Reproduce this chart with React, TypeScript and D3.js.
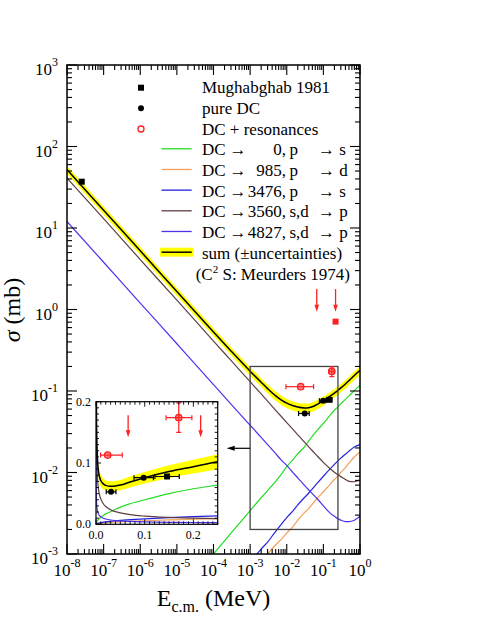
import React from "react";
import * as d3 from "d3";

// ---------- data ----------
const energyGrid = [1e-8, 1e-7, 1e-6, 1e-5, 1e-4, 3e-4, 1e-3, 2e-3, 3e-3, 5e-3, 7e-3, 0.01, 0.015, 0.02, 0.03, 0.04, 0.05, 0.07, 0.1, 0.15, 0.2, 0.25, 0.3, 0.4, 0.5, 0.7, 1.0];

const sumXS = [52, 16.5, 5.25, 1.66, 0.53, 0.31, 0.175, 0.128, 0.107, 0.087, 0.078, 0.071, 0.066, 0.0635, 0.062, 0.0625, 0.064, 0.069, 0.076, 0.086, 0.094, 0.102, 0.109, 0.122, 0.134, 0.155, 0.18];
const sumRelErr = [0.11, 0.11, 0.11, 0.11, 0.11, 0.11, 0.12, 0.12, 0.12, 0.13, 0.13, 0.13, 0.13, 0.13, 0.13, 0.13, 0.13, 0.13, 0.125, 0.12, 0.12, 0.12, 0.12, 0.12, 0.12, 0.12, 0.12];
const dc0 = [null, null, null, 0.0003, 0.001, 0.0018, 0.0034, 0.0049, 0.006, 0.0078, 0.0094, 0.0118, 0.0145, 0.017, 0.0205, 0.0245, 0.028, 0.0335, 0.040, 0.050, 0.058, 0.064, 0.070, 0.079, 0.087, 0.101, 0.118];
const dc985 = [null, null, null, null, null, 0.0003, 0.00055, 0.0008, 0.001, 0.0013, 0.0015, 0.0018, 0.0022, 0.0026, 0.0032, 0.0036, 0.0041, 0.0049, 0.0058, 0.0071, 0.0082, 0.0091, 0.0100, 0.0115, 0.0130, 0.0155, 0.018];
const dc3476 = [null, null, null, null, null, 0.00045, 0.0008, 0.00115, 0.0014, 0.0019, 0.0023, 0.0028, 0.0034, 0.0040, 0.0049, 0.0056, 0.0063, 0.0075, 0.009, 0.011, 0.0126, 0.0139, 0.015, 0.0168, 0.0183, 0.0205, 0.022];
const dc3560 = [41, 13, 4.1, 1.3, 0.41, 0.237, 0.13, 0.092, 0.075, 0.058, 0.049, 0.041, 0.0335, 0.029, 0.0237, 0.0206, 0.0185, 0.0157, 0.0133, 0.0112, 0.0101, 0.0094, 0.0089, 0.0082, 0.0078, 0.0077, 0.0081];
const dc4827 = [12, 3.8, 1.2, 0.38, 0.12, 0.069, 0.038, 0.027, 0.022, 0.017, 0.0143, 0.0122, 0.0099, 0.0086, 0.007, 0.0061, 0.0055, 0.0047, 0.0039, 0.0032, 0.0029, 0.0027, 0.0026, 0.0025, 0.0025, 0.0026, 0.0029];

// experimental points
const mughabghabE = [2.53e-8, 0.146];
const mughabghabS = [37, 0.078];
const mughabghabDx = [0, 0.025];
const pureDCE = [0.031, 0.098];
const pureDCS = [0.053, 0.076];
const pureDCDx = [0.010, 0.020];
const resE = [0.024, 0.170];
const resS = [0.113, 0.174];
const resXlo = [0.0095, 0.144];
const resXhi = [0.054, 0.197];
const resDy = [0, 0.024];
const resSquareE = [0.215];
const resSquareS = [0.71];
const limitE = [0.066, 0.215];
const limitMainTop = [1.78, 1.78];
const limitMainTip = [0.94, 0.94];
const limitInsetTop = [0.178, 0.178];
const limitInsetTip = [0.142, 0.142];

const xDecades = [-8, -7, -6, -5, -4, -3, -2, -1, 0];
const yDecades = [-3, -2, -1, 0, 1, 2, 3];
const insetXTicks = ["0.0", "0.1", "0.2"];
const insetYTicks = ["0.0", "0.1", "0.2"];
const zoomBox = [1e-3, 0.25, 0.002, 0.2];

const legendItems = [
  { n: "0,", t: "p", f: "\u2192 s", c: "#22dd22" },
  { n: "985,", t: "p", f: "\u2192 d", c: "#f5a05a" },
  { n: "3476,", t: "p", f: "\u2192 s", c: "#2222dd" },
  { n: "3560,", t: "s,d", f: "\u2192 p", c: "#5e3f3f" },
  { n: "4827,", t: "s,d", f: "\u2192 p", c: "#4b33ee" },
];

const curves = [
  { v: dc0, c: "#22dd22" },
  { v: dc985, c: "#f5a05a" },
  { v: dc3476, c: "#2222dd" },
  { v: dc3560, c: "#5e3f3f" },
  { v: dc4827, c: "#4b33ee" },
];

// ---------- layout ----------
const FONT = "Liberation Serif, Times New Roman, Times, serif";
const x = d3.scaleLog().domain([1e-8, 1]).range([67, 360]);
const y = d3.scaleLog().domain([1e-3, 1e3]).range([554, 65]);
const ix = d3.scaleLinear().domain([0, 0.25]).range([96, 217.7]);
const iy = d3.scaleLinear().domain([0, 0.2]).range([524.3, 401.7]);
const RED = "#ff2020";

type Pt = { e: number; v: number; r: number };
function series(vals: (number | null)[], maxE = 10): Pt[] {
  const out: Pt[] = [];
  energyGrid.forEach((e, i) => {
    const v = vals[i];
    if (v != null && e <= maxE) out.push({ e, v, r: sumRelErr[i] });
  });
  return out;
}

const mainLine = d3.line<Pt>().x((d) => x(d.e)).y((d) => y(d.v)).curve(d3.curveMonotoneX);
const mainArea = d3.area<Pt>().x((d) => x(d.e)).y0((d) => y(d.v * (1 - d.r))).y1((d) => y(d.v * (1 + d.r))).curve(d3.curveMonotoneX);
const insLine = d3.line<Pt>().x((d) => ix(d.e)).y((d) => iy(d.v)).curve(d3.curveMonotoneX);
const insArea = d3.area<Pt>().x((d) => ix(d.e)).y0((d) => iy(d.v * (1 - d.r))).y1((d) => iy(d.v * (1 + d.r))).curve(d3.curveMonotoneX);

function Arrow({ x0, y0, y1, color }: { x0: number; y0: number; y1: number; color: string }) {
  return (
    <g>
      <line x1={x0} x2={x0} y1={y0} y2={y1 - 6} stroke={color} strokeWidth={1.3} />
      <path d={`M${x0 - 2.3},${y1 - 7} L${x0 + 2.3},${y1 - 7} L${x0},${y1} Z`} fill={color} />
    </g>
  );
}

function XErr({ sx, x0, x1, yy, color }: { sx: (v: number) => number; x0: number; x1: number; yy: number; color: string }) {
  return (
    <g stroke={color} strokeWidth={1.2}>
      <line x1={sx(x0)} x2={sx(x1)} y1={yy} y2={yy} />
      <line x1={sx(x0)} x2={sx(x0)} y1={yy - 2.5} y2={yy + 2.5} />
      <line x1={sx(x1)} x2={sx(x1)} y1={yy - 2.5} y2={yy + 2.5} />
    </g>
  );
}

function Points({ sx, sy }: { sx: (v: number) => number; sy: (v: number) => number }) {
  return (
    <g>
      {resE.map((e, i) => {
        const cx = sx(e), cy = sy(resS[i]);
        return (
          <g key={"r" + i}>
            <XErr sx={sx} x0={resXlo[i]} x1={resXhi[i]} yy={cy} color={RED} />
            {resDy[i] > 0 && (
              <g stroke={RED} strokeWidth={1.2}>
                <line x1={cx} x2={cx} y1={sy(resS[i] - resDy[i])} y2={sy(resS[i] + resDy[i])} />
                <line x1={cx - 2.5} x2={cx + 2.5} y1={sy(resS[i] - resDy[i])} y2={sy(resS[i] - resDy[i])} />
                <line x1={cx - 2.5} x2={cx + 2.5} y1={sy(resS[i] + resDy[i])} y2={sy(resS[i] + resDy[i])} />
              </g>
            )}
            <circle cx={cx} cy={cy} r={3.2} fill="rgba(255,40,40,0.6)" stroke={RED} strokeWidth={1.3} />
          </g>
        );
      })}
      {pureDCE.map((e, i) => (
        <g key={"p" + i}>
          <XErr sx={sx} x0={e - pureDCDx[i]} x1={e + pureDCDx[i]} yy={sy(pureDCS[i])} color="#000" />
          <circle cx={sx(e)} cy={sy(pureDCS[i])} r={3} fill="#000" />
        </g>
      ))}
      {mughabghabE.map((e, i) => (
        <g key={"m" + i}>
          {mughabghabDx[i] > 0 && (
            <XErr sx={sx} x0={e - mughabghabDx[i]} x1={e + mughabghabDx[i]} yy={sy(mughabghabS[i])} color="#000" />
          )}
          <rect x={sx(e) - 3} y={sy(mughabghabS[i]) - 3} width={6} height={6} fill="#000" />
        </g>
      ))}
    </g>
  );
}

export default function App() {
  const xMajor = xDecades.map((k) => Math.pow(10, k));
  const xMinor: number[] = [];
  xDecades.slice(0, -1).forEach((k) => {
    for (let m = 2; m <= 9; m++) xMinor.push(m * Math.pow(10, k));
  });
  const yMajor = yDecades.map((k) => Math.pow(10, k));
  const yMinor: number[] = [];
  yDecades.slice(0, -1).forEach((k) => {
    for (let m = 2; m <= 9; m++) yMinor.push(m * Math.pow(10, k));
  });
  const L = 67, R = 360, T = 65, B = 554;
  const iL = 96, iR = 217.7, iT = 401.7, iB = 524.3;

  const insMinorX = d3.range(0, 26).map((i) => i * 0.01);
  const insMinorY = d3.range(0, 21).map((i) => i * 0.01);

  const sumPts = series(sumXS);
  const sumIns = series(sumXS, 0.3).filter((d) => d.e >= 1e-4);

  return (
    <svg width={480} height={621} style={{ position: "absolute", left: 0, top: 0, fontFamily: FONT }}>
      <defs>
        <clipPath id="mainClip">
          <rect x={L} y={T} width={R - L} height={B - T} />
        </clipPath>
        <clipPath id="insClip">
          <rect x={iL} y={iT} width={iR - iL} height={iB - iT} />
        </clipPath>
      </defs>
      <rect x={0} y={0} width={480} height={621} fill="#fff" />

      <g clipPath="url(#mainClip)">
        <path d={mainArea(sumPts) || ""} fill="#ffff00" stroke="none" />
        {curves.map((c, i) => (
          <path key={i} d={mainLine(series(c.v)) || ""} fill="none" stroke={c.c} strokeWidth={1.2} />
        ))}
        <path d={mainLine(sumPts) || ""} fill="none" stroke="#000" strokeWidth={1.5} />
        <rect x={x(zoomBox[0])} y={y(zoomBox[3])} width={x(zoomBox[1]) - x(zoomBox[0])} height={y(zoomBox[2]) - y(zoomBox[3])} fill="none" stroke="#444" strokeWidth={1.3} />
        <Points sx={x} sy={y} />
        {resSquareE.map((e, i) => (
          <rect key={i} x={x(e) - 3} y={y(resSquareS[i]) - 3} width={6} height={6} fill={RED} />
        ))}
        {limitE.map((e, i) => (
          <Arrow key={i} x0={x(e)} y0={y(limitMainTop[i])} y1={y(limitMainTip[i])} color={RED} />
        ))}
      </g>

      <line x1={x(zoomBox[0])} x2={iR + 16} y1={448.3} y2={448.3} stroke="#000" strokeWidth={1.2} />
      <path d={`M${iR + 9},448.3 L${iR + 17},445.8 L${iR + 17},450.8 Z`} fill="#000" />

      <rect x={L} y={T} width={R - L} height={B - T} fill="none" stroke="#000" strokeWidth={1.5} />
      <g stroke="#000" strokeWidth={1.1}>
        {xMajor.map((v, i) => (
          <g key={"xM" + i}>
            <line x1={x(v)} x2={x(v)} y1={B} y2={B - 10} />
            <line x1={x(v)} x2={x(v)} y1={T} y2={T + 10} />
          </g>
        ))}
        {xMinor.map((v, i) => (
          <g key={"xm" + i}>
            <line x1={x(v)} x2={x(v)} y1={B} y2={B - 5} />
            <line x1={x(v)} x2={x(v)} y1={T} y2={T + 5} />
          </g>
        ))}
        {yMajor.map((v, i) => (
          <g key={"yM" + i}>
            <line x1={L} x2={L + 10} y1={y(v)} y2={y(v)} />
            <line x1={R} x2={R - 10} y1={y(v)} y2={y(v)} />
          </g>
        ))}
        {yMinor.map((v, i) => (
          <g key={"ym" + i}>
            <line x1={L} x2={L + 5} y1={y(v)} y2={y(v)} />
            <line x1={R} x2={R - 5} y1={y(v)} y2={y(v)} />
          </g>
        ))}
      </g>

      {xDecades.map((k, i) => (
        <text key={"xl" + i} x={x(Math.pow(10, k))} y={576} textAnchor="middle" fontSize={17} fill="#000">
          <tspan>10</tspan>
          <tspan fontSize={12} dy={-9}>{k === 0 ? "0" : "-" + Math.abs(k)}</tspan>
        </text>
      ))}
      {yDecades.map((k, i) => (
        <text key={"yl" + i} x={58} y={y(Math.pow(10, k)) + 10} textAnchor="end" fontSize={17} fill="#000">
          <tspan>10</tspan>
          <tspan fontSize={12} dy={-9}>{k < 0 ? "-" + Math.abs(k) : String(k)}</tspan>
        </text>
      ))}

      <text x={213.5} y={606} textAnchor="middle" fontSize={24} fill="#000">
        <tspan>E</tspan>
        <tspan fontSize={16} dy={6}>c.m.</tspan>
        <tspan dy={-6}> (MeV)</tspan>
      </text>
      <text transform="translate(20,310) rotate(-90)" textAnchor="middle" fontSize={24} fill="#000">
        <tspan fontStyle="italic">σ</tspan>
        <tspan> (mb)</tspan>
      </text>

      <g fontSize={17} fill="#000">
        <rect x={138} y={84.7} width={6} height={6} fill="#000" />
        <text x={202} y={93.3}>Mughabghab 1981</text>
        <circle cx={141} cy={108.3} r={3} fill="#000" />
        <text x={202} y={114}>pure DC</text>
        <circle cx={141} cy={129} r={3} fill="#fff" stroke={RED} strokeWidth={1.3} />
        <text x={202} y={134.7}>DC + resonances</text>
        {legendItems.map((it, i) => {
          const by = 155.3 + i * 20.67;
          return (
            <g key={"lg" + i}>
              <line x1={161.5} x2={191.7} y1={by - 6.5} y2={by - 6.5} stroke={it.c} strokeWidth={1.3} />
              <text x={202} y={by}>DC</text>
              <text x={229.5} y={by}>{"\u2192"}</text>
              <text x={286} y={by} textAnchor="end">{it.n}</text>
              <text x={289.5} y={by}>{it.t}</text>
              <text x={318} y={by}>{it.f}</text>
            </g>
          );
        })}
        <rect x={160} y={247.7} width={33.3} height={9} fill="#ffff00" />
        <line x1={161.5} x2={191.7} y1={252.2} y2={252.2} stroke="#000" strokeWidth={1.5} />
        <text x={202} y={258.6}>sum (±uncertainties)</text>
        <text x={195.7} y={279.6}>
          <tspan>(C</tspan>
          <tspan fontSize={11} dy={-7}>2</tspan>
          <tspan dy={7}> S: Meurders 1974)</tspan>
        </text>
      </g>

      <rect x={iL} y={iT} width={iR - iL} height={iB - iT} fill="#fff" />
      <g clipPath="url(#insClip)">
        <path d={insArea(sumIns) || ""} fill="#ffff00" stroke="none" />
        {curves.map((c, i) => (
          <path key={i} d={insLine(series(c.v, 0.3).filter((d) => d.e >= 1e-4)) || ""} fill="none" stroke={c.c} strokeWidth={1.2} />
        ))}
        <path d={insLine(sumIns) || ""} fill="none" stroke="#000" strokeWidth={1.5} />
        <Points sx={ix} sy={iy} />
        {limitE.map((e, i) => (
          <Arrow key={i} x0={ix(e)} y0={iy(limitInsetTop[i])} y1={iy(limitInsetTip[i])} color={RED} />
        ))}
      </g>
      <rect x={iL} y={iT} width={iR - iL} height={iB - iT} fill="none" stroke="#000" strokeWidth={1.2} />
      <g stroke="#000" strokeWidth={0.9}>
        {insMinorX.map((v, i) => {
          const len = i % 10 === 0 ? 5 : 3;
          return (
            <g key={"ix" + i}>
              <line x1={ix(v)} x2={ix(v)} y1={iB} y2={iB - len} />
              <line x1={ix(v)} x2={ix(v)} y1={iT} y2={iT + len} />
            </g>
          );
        })}
        {insMinorY.map((v, i) => {
          const len = i % 10 === 0 ? 5 : 3;
          return (
            <g key={"iy" + i}>
              <line x1={iL} x2={iL + len} y1={iy(v)} y2={iy(v)} />
              <line x1={iR} x2={iR - len} y1={iy(v)} y2={iy(v)} />
            </g>
          );
        })}
      </g>
      {insetXTicks.map((t, i) => (
        <text key={"ixl" + i} x={ix(+t)} y={539} textAnchor="middle" fontSize={12} fill="#000">{t}</text>
      ))}
      {insetYTicks.map((t, i) => (
        <text key={"iyl" + i} x={91} y={iy(+t) + 4} textAnchor="end" fontSize={12} fill="#000">{t}</text>
      ))}
    </svg>
  );
}
